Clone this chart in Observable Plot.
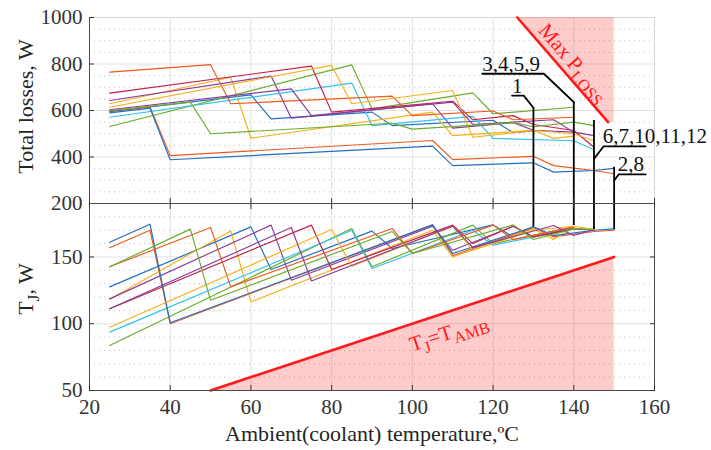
<!DOCTYPE html>
<html><head><meta charset="utf-8">
<script src="https://cdn.jsdelivr.net/npm/d3@7"></script>
<script src="https://cdn.jsdelivr.net/npm/@observablehq/plot@0.6"></script>
<style>
body{margin:0;background:#fff;}
#chart{position:relative;width:711px;height:450px;}
#chart svg{position:absolute;left:0;overflow:visible;}
#chart svg, #chart svg text{font-family:"Liberation Serif","Times New Roman",serif !important;}
</style></head><body><div id="chart"></div>
<script>
// ---- ticks ----
const xTicks = [20, 40, 60, 80, 100, 120, 140, 160];
const lossTicks = [200, 400, 600, 800, 1000];
const lossMinor = [250, 300, 350, 450, 500, 550, 650, 700, 750, 850, 900, 950];
const tjTicks = [50, 100, 150];
const tjMinor = [60, 70, 80, 90, 110, 120, 130, 140, 160, 170, 180];

// ---- series (ambient °C vertices, total losses W, junction temperature) ----
const seriesIds = ["1","2","3","4","5","6","7","8","9","10","11","12"];
const seriesColors = ["#1f6fbf","#ee5a1e","#f5b01a","#8b3a9a","#6aad2a","#33c0ef","#c41e48",
                      "#1f6fbf","#ee5a1e","#f5b01a","#8b3a9a","#6aad2a"];
const seriesX = [
  [25, 60, 65, 90, 95, 120, 125, 130],
  [25, 35, 40, 105, 110, 130, 135, 145, 150],
  [25, 55, 60, 105, 110, 130, 135, 140],
  [25, 65, 70, 105, 110, 125, 130, 140],
  [25, 85, 90, 115, 120, 140],
  [25, 85, 90, 115, 120, 140, 145],
  [25, 75, 80, 110, 115, 125, 130, 140, 145],
  [25, 35, 40, 105, 110, 130, 135, 145, 150],
  [25, 50, 55, 95, 100, 120, 125, 140],
  [25, 80, 85, 110, 115, 130, 140, 145],
  [25, 70, 75, 110, 115, 135, 140, 145],
  [25, 45, 50, 95, 100, 125, 130, 140, 145]
];
const seriesLoss = [
  [595, 667, 564, 593, 535, 558, 505, 512],
  [598, 615, 406, 471, 389, 403, 363, 342, 328],
  [629, 743, 481, 593, 492, 515, 480, 490],
  [643, 748, 567, 629, 524, 548, 515, 507],
  [531, 796, 607, 676, 586, 614],
  [571, 718, 535, 575, 480, 470, 431],
  [675, 791, 593, 640, 560, 578, 540, 514, 442],
  [590, 610, 388, 447, 363, 375, 335, 342, 351],
  [765, 797, 629, 662, 578, 598, 560, 571],
  [614, 794, 629, 686, 485, 514, 500, 470],
  [603, 693, 578, 636, 540, 560, 507, 492],
  [600, 636, 500, 545, 520, 548, 530, 550, 535]
];
const seriesTj = [
  [127.6, 172.5, 140.6, 169.3, 156.3, 174, 165, 172.5],
  [156.8, 170, 100, 174, 151, 172, 165, 169, 170],
  [118.3, 169.5, 116.4, 170, 150, 171, 163, 172],
  [118.6, 173.8, 132.6, 173, 155, 173, 165, 172],
  [83.7, 171.3, 142.6, 173.8, 160, 172.5],
  [93.7, 170, 141.3, 170, 158.8, 171, 170.5],
  [111.2, 173.8, 140.6, 173.8, 160, 173, 165, 171, 170.5],
  [161, 174.5, 100.7, 174, 152.6, 172.5, 166, 170, 171],
  [142.6, 172, 127.6, 171.3, 152.6, 173.8, 163, 172.5],
  [97.4, 170.5, 143, 173, 155, 170, 173, 170.5],
  [111.2, 172, 132, 173, 157, 173.5, 166, 170.5],
  [142.6, 170.8, 117.6, 169, 152.6, 174, 163, 171, 170.5]
];

// ---- limits ----
const maxLossX = [126, 148.5, 150];
const maxLossY = [1000, 550, 550];
const tambX = [50, 150];
const tambY = [50, 150];

// ---- callouts ----
const calloutLabel = ["1", "3,4,5,9", "6,7,10,11,12", "2,8"];
const calloutX = [130, 140, 145, 150];          // vertical leader position
const calloutTop = [612, 636, 557, 356];        // loss where leader starts
const calloutBottom = [172.5, 173.5, 170.5, 170.5]; // T_J where leader ends
const leaderX = [[124.7, 127.6, 130], [117.3, 132.6, 140], [157.8, 147.4, 145], [157.8, 151.1, 150]];
const leaderLoss = [[664, 664, 612], [758, 758, 636], [446, 446, 392], [325, 325, 299]];
const labelX = [124.7, 117.3, 147.2, 150.9];

const FONT = '"Liberation Serif","Times New Roman",serif';

const rows = [];
seriesIds.forEach((id, i) => seriesX[i].forEach((x, j) =>
  rows.push({id, x, loss: seriesLoss[i][j], tj: seriesTj[i][j]})));
const maxPts = maxLossX.map((x, i) => ({x, y: maxLossY[i]}));
const tambPts = tambX.map((x, i) => ({x, y: tambY[i]}));
const leaderPts = [];
leaderX.forEach((xs, k) => xs.forEach((x, j) => leaderPts.push({k, x, y: leaderLoss[k][j]})));
const callouts = calloutLabel.map((name, k) => ({name, x: calloutX[k], top: calloutTop[k],
  bottom: calloutBottom[k], lx: labelX[k], ly: leaderLoss[k][0]}));

const gridC = "#e2e2e2", minorC = "#bdbdbd", axisC = "#4a4a4a";
const fmt = d => String(d);
const common = {
  width: 711, marginLeft: 89, marginRight: 57,
  x: {domain: [20, 160]},
  color: {domain: seriesIds, range: seriesColors},
  style: {fontFamily: FONT, fontSize: "21px", color: "#262626", background: "transparent", overflow: "visible"}
};

const topPlot = Plot.plot({
  ...common, height: 203, marginTop: 17, marginBottom: 0,
  y: {domain: [200, 1000]},
  marks: [
    Plot.ruleY(lossMinor, {stroke: minorC, strokeDasharray: "1,4"}),
    Plot.ruleY(lossTicks.slice(1, -1), {stroke: gridC}),
    Plot.ruleX(xTicks.slice(1, -1), {stroke: gridC}),
    Plot.ruleX([160], {stroke: "#d5d5d5"}),
    Plot.ruleY([1000], {stroke: "#d5d5d5"}),
    Plot.areaY(maxPts, {x: "x", y1: "y", y2: 1000, fill: "#ff0000", fillOpacity: 0.2}),
    Plot.line(maxPts.slice(0, 2), {x: "x", y: "y", stroke: "#ff1a1a", strokeWidth: 2.6}),
    Plot.line(rows, {x: "x", y: "loss", z: "id", stroke: "id", strokeWidth: 1.15}),
    Plot.line(leaderPts, {x: "x", y: "y", z: "k", stroke: "#000", strokeWidth: 1.8}),
    Plot.ruleX(callouts, {x: "x", y1: "top", y2: 200, stroke: "#000", strokeWidth: 1.8}),
    Plot.text(callouts, {x: "lx", y: "ly", text: "name", textAnchor: "start", lineAnchor: "bottom", dy: -3, fontSize: 21, fill: "#111"}),
    Plot.text(["Max PLOSS"], {x: 140, y: 806, rotate: 49, fill: "#ff1a1a", fontSize: 21}),
    Plot.ruleX([20], {stroke: axisC}),
    Plot.ruleY([200], {stroke: axisC}),
    Plot.axisY(lossTicks, {anchor: "left", label: null, tickSize: -5, tickPadding: 12, tickFormat: fmt, color: "#333"}),
    Plot.axisX(xTicks, {anchor: "bottom", label: null, tickSize: -5, tickFormat: () => "", color: "#333"}),
    Plot.text(["Total losses, W"], {frameAnchor: "left", textAnchor: "middle", dx: -64, dy: -4, rotate: -90, fontSize: 22, fill: "#262626"})
  ]
});

const botPlot = Plot.plot({
  ...common, height: 247, marginTop: 0, marginBottom: 60,
  y: {domain: [50, 190]},
  marks: [
    Plot.ruleY(tjMinor, {stroke: minorC, strokeDasharray: "1,4"}),
    Plot.ruleY(tjTicks.slice(1), {stroke: gridC}),
    Plot.ruleX(xTicks.slice(1, -1), {stroke: gridC}),
    Plot.areaY(tambPts, {x: "x", y1: 50, y2: "y", fill: "#ff0000", fillOpacity: 0.2}),
    Plot.line(tambPts, {x: "x", y: "y", stroke: "#ff1a1a", strokeWidth: 2.6}),
    Plot.line(rows, {x: "x", y: "tj", z: "id", stroke: "id", strokeWidth: 1.15}),
    Plot.ruleX(callouts, {x: "x", y1: "bottom", y2: 190, stroke: "#000", strokeWidth: 1.8}),
    Plot.text(["TJ=TAMB"], {x: 109, y: 93.4, rotate: -18.3, fill: "#ff1a1a", fontSize: 21}),
    Plot.frame({stroke: axisC}),
    Plot.axisY(tjTicks, {anchor: "left", label: null, tickSize: -5, tickPadding: 12, tickFormat: fmt, color: "#333"}),
    Plot.axisY(tjTicks, {anchor: "right", label: null, tickSize: -5, tickFormat: () => "", color: "#333"}),
    Plot.axisX(xTicks, {anchor: "bottom", label: null, tickSize: -5, tickPadding: 14, tickFormat: fmt, color: "#333"}),
    Plot.axisX(xTicks, {anchor: "top", label: null, tickSize: -5, tickFormat: () => "", color: "#333"}),
    Plot.text(["TJ, W"], {frameAnchor: "left", textAnchor: "middle", dx: -64, dy: -8, rotate: -90, fontSize: 22, fill: "#262626"}),
    Plot.text(["Ambient(coolant) temperature,ºC"], {frameAnchor: "bottom", dy: 50, fontSize: 22, fill: "#262626"})
  ]
});

topPlot.style.top = "0px";
botPlot.style.top = "203px";
const chart = document.getElementById("chart");
chart.appendChild(topPlot);
chart.appendChild(botPlot);

function rich(svg, content, parts, size) {
  d3.select(svg).selectAll("text").filter(function() { return this.textContent === content; })
    .each(function() {
      const t = d3.select(this);
      t.text(null);
      let down = false;
      const shift = size * 0.28;
      for (const [s, sub] of parts) {
        const ts = t.append("tspan").text(s);
        if (sub) {
          ts.attr("font-size", size * 0.78);
          if (!down) { ts.attr("dy", shift); down = true; }
        } else if (down) { ts.attr("dy", -shift); down = false; }
      }
    });
}
rich(topPlot, "Max PLOSS", [["Max P", 0], ["LOSS", 1]], 21);
rich(botPlot, "TJ=TAMB", [["T", 0], ["J", 1], ["=T", 0], ["AMB", 1]], 21);
rich(botPlot, "TJ, W", [["T", 0], ["J", 1], [", W", 0]], 22);
</script></body></html>
